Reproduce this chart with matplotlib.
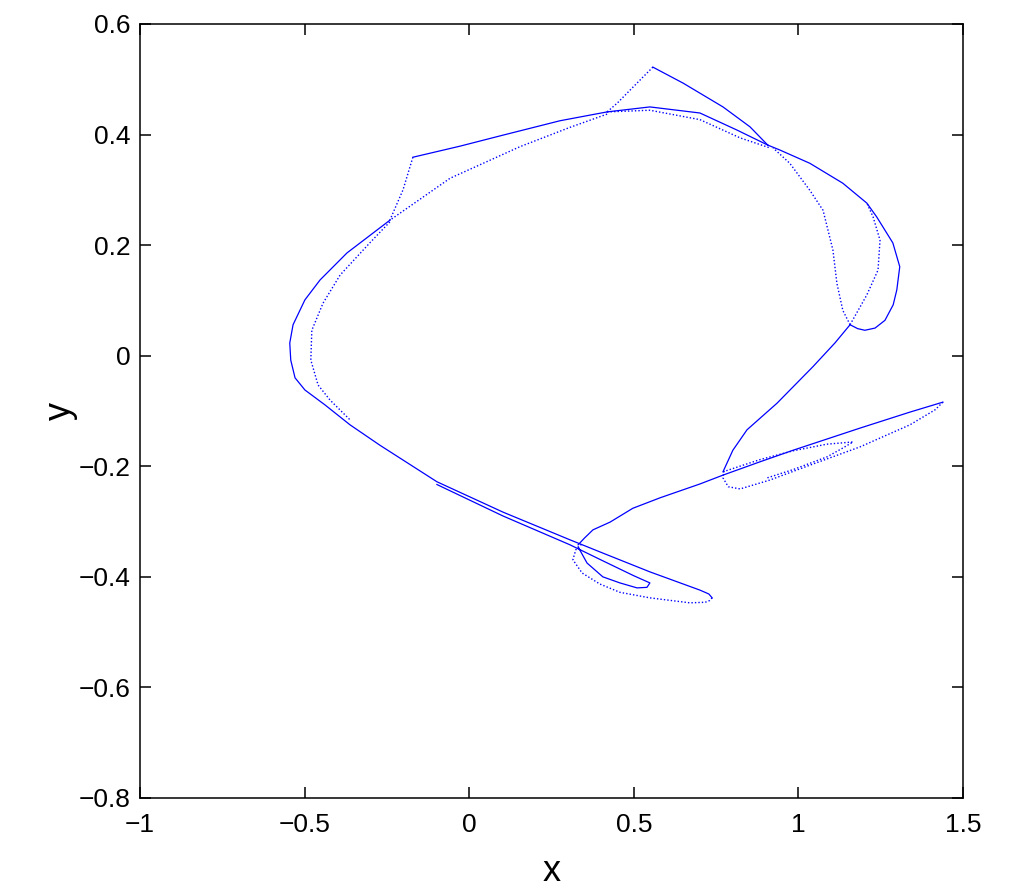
import numpy as np
import matplotlib
matplotlib.use("Agg")
import matplotlib.pyplot as plt

plt.rcParams['font.family'] = ['Liberation Sans', 'DejaVu Sans']

# strands of the attractor (data coordinates)
left_lens_top_x = [-0.171, -0.028, 0.103, 0.276, 0.419]
left_lens_top_y = [0.359, 0.379, 0.399, 0.425, 0.441]
left_lens_bot_x = [0.419, 0.306, 0.154, -0.058, -0.241]
left_lens_bot_y = [0.437, 0.413, 0.378, 0.321, 0.245]
corner_x = [-0.171, -0.201, -0.241]
corner_y = [0.359, 0.300, 0.245]

left_outer_x = [-0.241, -0.371, -0.453, -0.499, -0.535, -0.545, -0.542, -0.529, -0.499,
                -0.438, -0.362, -0.271, -0.098, 0.103, 0.306, 0.406, 0.549, 0.701, 0.728, 0.738]
left_outer_y = [0.245, 0.186, 0.137, 0.101, 0.056, 0.023, -0.008, -0.040, -0.062,
                -0.089, -0.125, -0.162, -0.228, -0.283, -0.333, -0.357, -0.391, -0.424, -0.431, -0.438]
left_inner_x = [-0.241, -0.302, -0.392, -0.444, -0.478, -0.481, -0.459, -0.423, -0.362]
left_inner_y = [0.242, 0.204, 0.146, 0.095, 0.046, -0.008, -0.053, -0.080, -0.116]

big_return_x = [0.738, 0.730, 0.717, 0.670, 0.549, 0.458, 0.397, 0.343, 0.315, 0.324, 0.345]
big_return_y = [-0.438, -0.443, -0.446, -0.447, -0.438, -0.428, -0.413, -0.393, -0.369, -0.351, -0.339]
small_lobe_x = [-0.098, 0.103, 0.306, 0.406, 0.500, 0.549, 0.540, 0.510, 0.458, 0.406, 0.358, 0.331]
small_lobe_y = [-0.233, -0.290, -0.342, -0.371, -0.398, -0.411, -0.419, -0.420, -0.411, -0.400, -0.375, -0.346]

s_curve_x = [0.331, 0.350, 0.376, 0.428, 0.497, 0.580, 0.701, 0.771, 0.883, 0.984, 1.187, 1.339, 1.439]
s_curve_y = [-0.342, -0.330, -0.315, -0.301, -0.276, -0.257, -0.232, -0.216, -0.192, -0.171, -0.131, -0.102, -0.084]
right_return_x = [1.439, 1.415, 1.339, 1.187, 1.035, 0.913, 0.823, 0.787, 0.771, 0.775]
right_return_y = [-0.084, -0.098, -0.125, -0.165, -0.198, -0.225, -0.241, -0.237, -0.221, -0.205]
inner_ellipse_x = [0.771, 0.883, 0.984, 1.087, 1.166, 1.135, 1.087, 0.984, 0.900]
inner_ellipse_y = [-0.210, -0.188, -0.172, -0.160, -0.156, -0.167, -0.183, -0.206, -0.222]

rise_x = [0.771, 0.801, 0.844, 0.935, 1.044, 1.111, 1.157]
rise_y = [-0.210, -0.171, -0.134, -0.086, -0.020, 0.023, 0.056]
right_outer_x = [1.157, 1.180, 1.202, 1.233, 1.263, 1.288, 1.299, 1.308, 1.287, 1.238,
                 1.208, 1.135, 1.035, 0.944, 0.907]
right_outer_y = [0.056, 0.049, 0.046, 0.050, 0.064, 0.092, 0.119, 0.161, 0.204, 0.251,
                 0.276, 0.312, 0.348, 0.372, 0.381]
right_inner_x = [1.157, 1.135, 1.117, 1.105, 1.075, 1.035, 0.974, 0.923]
right_inner_y = [0.056, 0.082, 0.131, 0.191, 0.263, 0.299, 0.348, 0.376]
right_mid_x = [1.157, 1.208, 1.242, 1.248, 1.227, 1.208]
right_mid_y = [0.056, 0.110, 0.155, 0.209, 0.251, 0.276]

right_lens_top_x = [0.419, 0.549, 0.701, 0.814, 0.907]
right_lens_top_y = [0.441, 0.450, 0.439, 0.408, 0.381]
right_lens_bot_x = [0.419, 0.549, 0.701, 0.823, 0.913]
right_lens_bot_y = [0.441, 0.444, 0.427, 0.394, 0.376]
spike_right_x = [0.558, 0.650, 0.771, 0.853, 0.907]
spike_right_y = [0.522, 0.493, 0.450, 0.414, 0.381]
spike_left_x = [0.558, 0.498, 0.450, 0.419]
spike_left_y = [0.522, 0.486, 0.457, 0.441]

dense = [(left_lens_top_x, left_lens_top_y), (left_outer_x, left_outer_y),
         (small_lobe_x, small_lobe_y), (s_curve_x, s_curve_y), (rise_x, rise_y),
         (right_outer_x, right_outer_y), (right_lens_top_x, right_lens_top_y),
         (spike_right_x, spike_right_y)]
sparse = [(left_lens_bot_x, left_lens_bot_y), (corner_x, corner_y),
          (left_inner_x, left_inner_y), (big_return_x, big_return_y),
          (right_return_x, right_return_y), (inner_ellipse_x, inner_ellipse_y),
          (right_inner_x, right_inner_y), (right_mid_x, right_mid_y),
          (right_lens_bot_x, right_lens_bot_y), (spike_left_x, spike_left_y)]

fig = plt.figure(figsize=(10.24, 8.92), dpi=100)
ax = fig.add_axes([0.1367, 0.1054, 0.8037, 0.8677])

for xs, ys in dense:
    ax.plot(xs, ys, color='#0000ff', lw=0.9, solid_joinstyle='round')
for xs, ys in sparse:
    ax.plot(xs, ys, color='#0000ff', lw=1.0, linestyle=(0, (1, 1.5)))

ax.set_xlim(-1, 1.5)
ax.set_ylim(-0.8, 0.6)
xt = [-1, -0.5, 0, 0.5, 1, 1.5]
yt = [-0.8, -0.6, -0.4, -0.2, 0, 0.2, 0.4, 0.6]
ax.set_xticks(xt)
ax.set_xticklabels(['\u22121', '\u22120.5', '0', '0.5', '1', '1.5'])
ax.set_yticks(yt)
ax.set_yticklabels(['\u22120.8', '\u22120.6', '\u22120.4', '\u22120.2', '0', '0.2', '0.4', '0.6'])
ax.tick_params(direction='in', length=8, width=1.1, top=True, right=True,
               labelsize=19, pad=7)
ax.tick_params(axis='x', pad=11)
for s in ax.spines.values():
    s.set_linewidth(1.1)

ax.set_xlabel('x', fontsize=26, labelpad=12)
ax.set_ylabel('y', fontsize=26, labelpad=0)

fig.savefig('out.png', dpi=100)
